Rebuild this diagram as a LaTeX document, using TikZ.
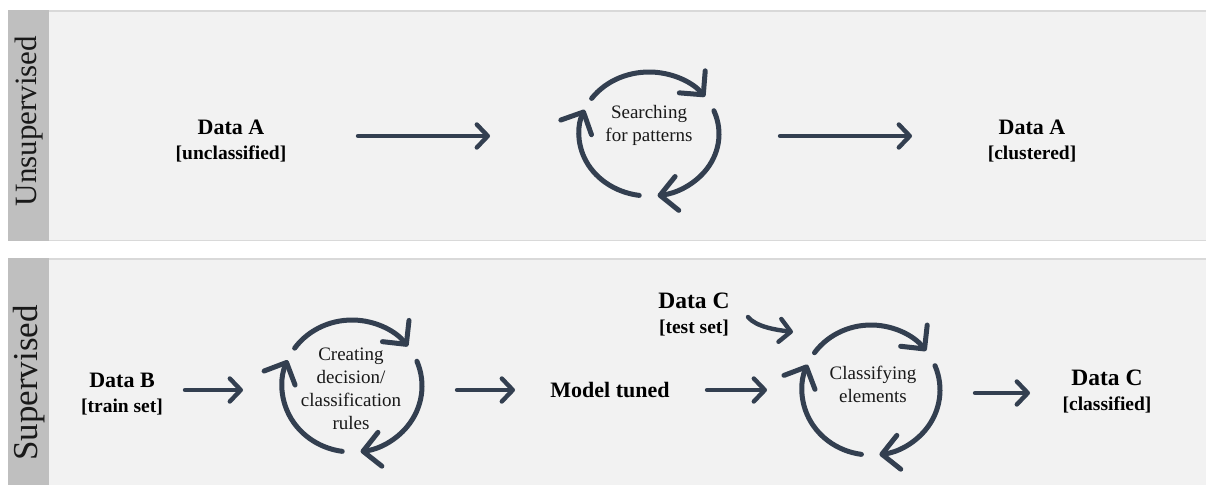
\documentclass[tikz,border=0pt]{standalone}
\usepackage{fontspec}
\setmainfont{Liberation Serif}
\usetikzlibrary{arrows.meta,calc}

\definecolor{ink}{RGB}{51,63,80}
\definecolor{panelfill}{RGB}{242,242,242}
\definecolor{panelrule}{RGB}{217,217,217}
\definecolor{tabfill}{RGB}{191,191,191}

% second line of a data label
\newcommand{\brk}{\bfseries\fontsize{19.5}{25}\selectfont}

% three clockwise arcs with open chevron heads around a centre
\newcommand{\cyclearrows}[3]{% centre, x radius, y radius
  \foreach \a/\b in {215/323, 338/443, 98/203}{
    \draw[cycarc] ($(#1)+(\a:#2 and #3)$)
      arc[start angle=\a, end angle=\b, x radius=#2, y radius=#3];
  }}

\begin{document}
\begin{tikzpicture}[x=1pt,y=-1pt,
  flow/.style={draw=ink, line width=4.4pt, line cap=round,
    -{Straight Barb[length=11pt,width=23pt,round]}},
  cycarc/.style={draw=ink, line width=5pt, line cap=round,
    -{Straight Barb[length=17pt,width=34pt,round]}},
  data/.style={inner sep=0pt, align=center, text=black,
    font=\bfseries\fontsize{22}{25}\selectfont},
  cyctext/.style={inner sep=0pt, align=center, text=black!90,
    font=\fontsize{19}{23}\selectfont},
  side/.style={inner sep=0pt, rotate=90, text=black!90,
    font=\fontsize{31}{31}\selectfont}
]
\useasboundingbox (0,0) rectangle (1206,485);
\fill[white] (0,0) rectangle (1206,485);

% panels
\fill[panelfill] (8,10) rectangle (1206,241);
\fill[panelfill] (8,258) rectangle (1206,485);
\draw[panelrule, line width=1.5pt] (8,10.75) -- (1206,10.75);
\draw[panelrule, line width=1.5pt] (8,240.25) -- (1206,240.25);
\draw[panelrule, line width=1.5pt] (8,258.75) -- (1206,258.75);
\fill[tabfill] (8,10) rectangle (49,241);
\fill[tabfill] (8,258) rectangle (49,485);

\node[side] (uns) at (29,121) {Unsupervised};
\node[side, font=\fontsize{35}{35}\selectfont] (sup) at (29,383) {Supervised};

% unsupervised row
\node[data] (dataA1) at (231,141) {Data A\\{\brk [unclassified]}};
\coordinate (c1) at (649,134);
\cyclearrows{c1}{70}{62}
\node[cyctext] (t1) at (649,125) {Searching\\for patterns};
\node[data] (dataA2) at (1032,141) {Data A\\{\brk [clustered]}};

\draw[flow] ([shift={(127,-5)}]dataA1.center) -- ([shift={(-159,2)}]c1);
\draw[flow] ([shift={(131,2)}]c1) -- ([shift={(-120,-5)}]dataA2.center);

% supervised row
\node[data] (dataB) at (122,394) {Data B\\{\brk [train set]}};
\coordinate (c2) at (352,386);
\cyclearrows{c2}{70}{66}
\node[cyctext] (t2) at (351,389) {Creating\\decision/\\classification\\rules};
\node[data] (model) at (610,390) {Model tuned};
\node[data, font=\bfseries\fontsize{23.5}{25}\selectfont] (dataC1) at (694,315) {Data C\\{\brk [test set]}};
\coordinate (c3) at (871,390);
\cyclearrows{c3}{69}{65}
\node[cyctext] (t3) at (873,384) {Classifying\\elements};
\node[data, font=\bfseries\fontsize{23.5}{25}\selectfont] (dataC2) at (1107,392) {Data C\\{\brk [classified]}};

\draw[flow] ([shift={(63,-4)}]dataB.center) -- ([shift={(-109,4)}]c2);
\draw[flow] ([shift={(105,4)}]c2) -- ([shift={(-95,0)}]model.center);
\draw[flow] ([shift={(97,0)}]model.center) -- ([shift={(-104,0)}]c3);
\draw[flow] ([shift={(104,3)}]c3) -- ([shift={(-77,1)}]dataC2.center);
\draw[flow] ([shift={(54,2)}]dataC1.center)
  .. controls +(8,10) and +(-16,-2) .. ([shift={(-78,-58)}]c3);
\end{tikzpicture}
\end{document}
